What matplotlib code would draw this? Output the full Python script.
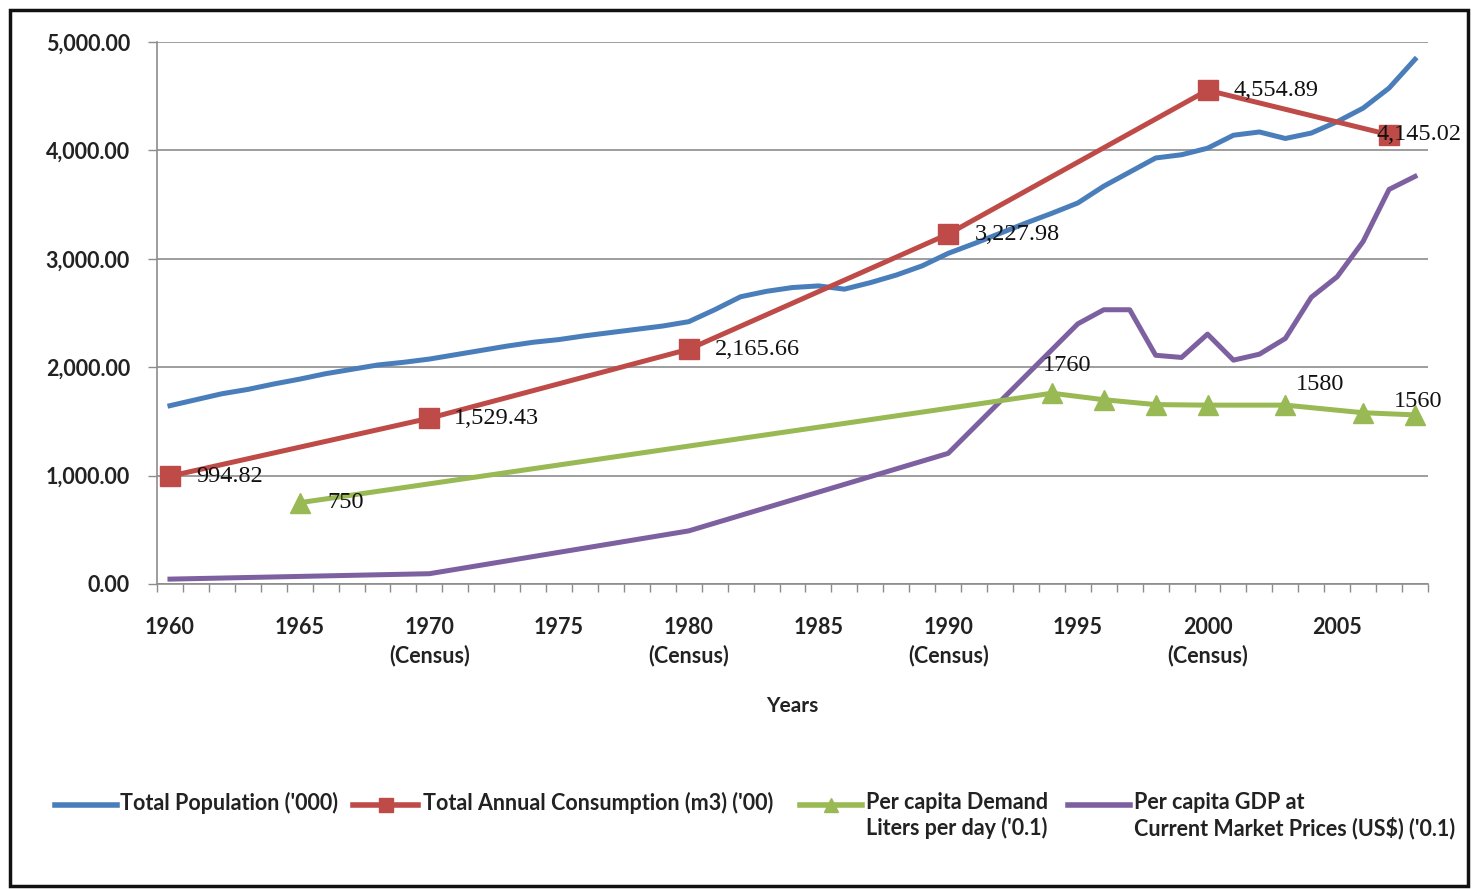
import matplotlib
matplotlib.use('Agg')
import matplotlib.pyplot as plt
from matplotlib.ticker import FixedLocator, StrMethodFormatter
from matplotlib.patches import Rectangle
from matplotlib.lines import Line2D

# Total population ('000), one value per year 1960-2008
pop_years = list(range(1960, 2009))
population = [1645, 1700, 1755, 1795, 1845, 1890, 1940, 1980, 2020, 2045,
              2075, 2115, 2155, 2195, 2230, 2255, 2290, 2320, 2350, 2380,
              2420, 2530, 2650, 2700, 2735, 2750, 2720, 2780, 2850, 2935,
              3050, 3140, 3235, 3330, 3420, 3515, 3670, 3800, 3930, 3960,
              4020, 4140, 4170, 4110, 4160, 4265, 4390, 4575, 4840]

# Total annual consumption (m3) ('00)
cons_years = [1960, 1970, 1980, 1990, 2000, 2007]
consumption = [994.82, 1529.43, 2165.66, 3227.98, 4554.89, 4145.02]

# Per capita demand, liters per day ('0.1)
demand_years = [1965, 1994, 1996, 1998, 2000, 2003, 2006, 2008]
demand = [750, 1760, 1700, 1655, 1650, 1650, 1580, 1560]
demand_labelled = [1965, 1994, 2006, 2008]

# Per capita GDP at current market prices (US$) ('0.1)
gdp_years = [1960, 1970, 1980, 1990, 1995, 1996, 1997, 1998, 1999, 2000,
             2001, 2002, 2003, 2004, 2005, 2006, 2007, 2008]
gdp = [45, 95, 490, 1205, 2400, 2530, 2530, 2110, 2090, 2305,
       2065, 2120, 2265, 2645, 2835, 3160, 3640, 3760]

tick_years = [1960, 1965, 1970, 1975, 1980, 1985, 1990, 1995, 2000, 2005]
tick_labels = ['1960', '1965', '1970\n(Census)', '1975', '1980\n(Census)', '1985',
               '1990\n(Census)', '1995', '2000\n(Census)', '2005']

series_names = ["Total Population ('000)",
                "Total Annual Consumption (m3) ('00)",
                "Per capita Demand\nLiters per day ('0.1)",
                "Per capita GDP at\nCurrent Market Prices (US$) ('0.1)"]

BLUE = '#4A7EBB'
RED = '#BE4B48'
GREEN = '#98B954'
PURPLE = '#7D60A0'

W, H = 1474, 889

# label offsets in pixels (dx, dy) relative to the marker
cons_offsets = [(26, 0), (25, 0), (26, 0), (27, 0), (26, 0), (-13, 0)]
demand_offsets = [(28, 0), (15, 28), (-43, 28), (3, 13)]

fig = plt.figure(figsize=(W / 100, H / 100), dpi=100)
ax = fig.add_axes([157 / W, 1 - 584 / H, (1428 - 157) / W, (584 - 42) / H])

styles = [dict(color=BLUE), dict(color=RED, marker='s', markersize=15),
          dict(color=GREEN, marker='^', markersize=15), dict(color=PURPLE)]

ax.plot(pop_years, population, lw=3.6, zorder=3, **styles[0])
ax.plot(cons_years, consumption, lw=3.6, zorder=4, **styles[1])
ax.plot(demand_years, demand, lw=3.6, zorder=4, **styles[2])
ax.plot(gdp_years, gdp, lw=3.6, zorder=3, **styles[3])

# data labels
lab_font = dict(family='Liberation Serif', fontsize=17.5, color='#111111')
for x, y, (dx, dy) in zip(cons_years, consumption, cons_offsets):
    ax.annotate(f'{y:,.2f}', (x, y), xytext=(dx * 0.72, dy * 0.72),
                textcoords='offset points', ha='left', va='center', zorder=6, **lab_font)
for x, (dx, dy) in zip(demand_labelled, demand_offsets):
    y = demand[demand_years.index(x)]
    ax.annotate(f'{y}', (x, y), xytext=(dx * 0.72, dy * 0.72),
                textcoords='offset points', ha='left' if dy == 0 else 'center',
                va='center', zorder=6, **lab_font)

ax.set_xlim(1959.5, 2008.5)
ax.set_ylim(0, 5000)
ax.set_yticks([0, 1000, 2000, 3000, 4000, 5000])
ax.yaxis.set_major_formatter(StrMethodFormatter('{x:,.2f}'))
ax.grid(axis='y', color='#8C8C8C', lw=1.2)
ax.set_axisbelow(True)

ax.set_xticks(tick_years)
ax.set_xticklabels(tick_labels)
ax.xaxis.set_minor_locator(FixedLocator([y + 0.5 for y in range(1959, 2009)]))
ax.tick_params(axis='x', which='major', length=0, pad=24)
ax.tick_params(axis='x', which='minor', length=6, width=1, color='#8C8C8C', direction='out')
ax.tick_params(axis='y', length=6.5, width=1, color='#8C8C8C', pad=13)
for lbl in ax.get_xticklabels() + ax.get_yticklabels():
    lbl.set_family('Lato')
    lbl.set_fontweight('bold')
    lbl.set_fontsize(15.5)
    lbl.set_color('#222222')
for lbl in ax.get_xticklabels():
    lbl.set_linespacing(1.35)
    lbl.set_verticalalignment('top')

for side in ['top', 'right']:
    ax.spines[side].set_visible(False)
for side in ['left', 'bottom']:
    ax.spines[side].set_color('#8C8C8C')
    ax.spines[side].set_linewidth(1.2)

fig.text(792 / W, 1 - 706 / H, 'Years', ha='center', va='center',
         family='Lato', fontweight='bold', fontsize=15, color='#222222')

# legend laid out along the bottom of the chart
leg_x = [(55, 117, 120), (353, 418, 423), (800, 862, 866), (1068, 1130, 1134)]
leg_y = 1 - 805 / H
for (x0, x1, xt), st, name in zip(leg_x, styles, series_names):
    fig.add_artist(Line2D([x0 / W, x1 / W], [leg_y, leg_y], transform=fig.transFigure,
                          lw=4, color=st['color']))
    if 'marker' in st:
        fig.add_artist(Line2D([(x0 + x1) / 2 / W], [leg_y], transform=fig.transFigure,
                              color=st['color'], marker=st['marker'], markersize=10, lw=0))
    fig.text(xt / W, leg_y + 13 / H, name, ha='left', va='top', family='Lato',
             fontweight='bold', fontsize=15.5, color='#222222', linespacing=1.2)

# outer chart border
fig.patches.append(Rectangle((10 / W, 3 / H), 1458 / W, 876 / H,
                             transform=fig.transFigure, fill=False,
                             edgecolor='#111111', lw=2.5))

fig.savefig('out.png', dpi=100)
